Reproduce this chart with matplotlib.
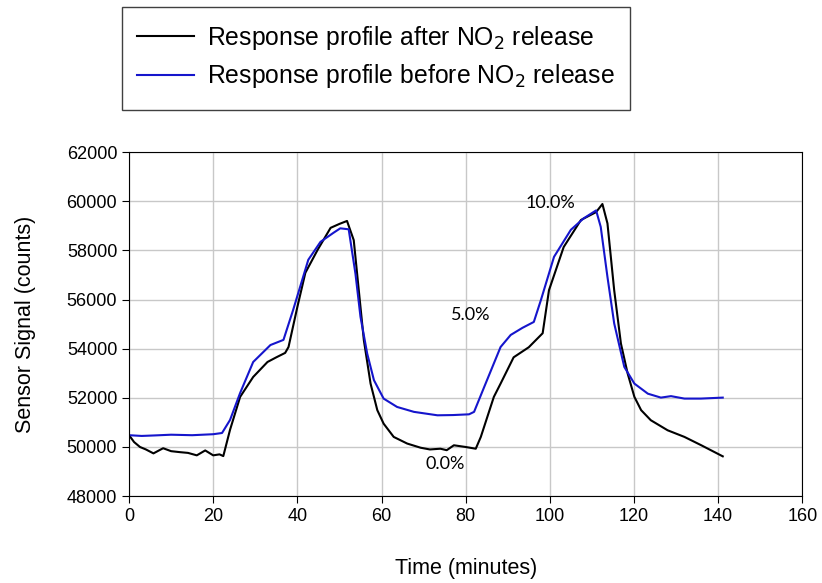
import numpy as np
import matplotlib
matplotlib.use('Agg')
import matplotlib.pyplot as plt
from matplotlib.patches import Rectangle

plt.rcParams['font.family'] = ['Liberation Sans', 'DejaVu Sans']

# Response profile after NO2 release (black)
t_after = [0, 1.2, 2.6, 4.0, 5.8, 7.0, 8.1, 10.0, 12.1, 14.0, 16.1, 18.1, 20.0, 21.5, 22.4,
           24.0, 26.4, 29.5, 32.9, 35.0, 37.1, 37.9, 40.0, 41.9, 44.8, 47.9, 50.0, 51.8,
           53.4, 54.6, 55.8, 57.4, 59.0, 60.5, 62.9, 66.1, 69.3, 71.5, 74.0, 75.5, 77.2, 80.0, 82.4,
           83.6, 86.7, 88.3, 91.4, 95.0, 98.3, 99.8, 103.3, 107.4, 111.0, 112.5,
           113.7, 115.3, 116.9, 118.5, 120.1, 121.7, 124.0, 128.0, 132.0, 136.0, 141.1]
v_after = [50480, 50200, 50000, 49900, 49740, 49850, 49950, 49830, 49790, 49760, 49660, 49860, 49660, 49700, 49630,
           50700, 52040, 52850, 53460, 53650, 53830, 54070, 55700, 57090, 58020, 58920, 59080, 59200,
           58420, 56380, 54350, 52580, 51500, 50950, 50410, 50140, 49970, 49900, 49930, 49870, 50070, 50000, 49930,
           50410, 52040, 52580, 53650, 54060, 54630, 56380, 58140, 59240, 59560, 59890,
           59100, 56380, 54210, 52990, 52040, 51500, 51090, 50680, 50410, 50070, 49620]

# Response profile before NO2 release (blue)
t_before = [0, 3, 6, 10, 15, 20, 22.1, 24.0, 26.4, 29.5, 33.6, 36.7, 39.0, 42.6, 45.5,
            48.6, 50.2, 52.2, 53.8, 55.0, 56.6, 58.2, 60.5, 63.7, 67.7, 73.3, 77.0, 80.8, 82.0,
            84.4, 88.3, 90.7, 93.5, 96.2, 97.9, 101.0, 105.0, 108.0, 111.0, 112.1, 113.7,
            115.3, 117.7, 120.1, 123.3, 126.4, 128.8, 132.0, 135.9, 141.1]
v_before = [50480, 50450, 50470, 50500, 50480, 50520, 50570, 51100, 52200, 53460, 54150, 54360, 55580, 57620, 58350,
            58720, 58900, 58860, 57060, 55300, 53800, 52720, 51970, 51630, 51430, 51290, 51300, 51330, 51430,
            52440, 54070, 54560, 54850, 55090, 55990, 57740, 58840, 59300, 59630, 58960, 56920,
            55030, 53260, 52580, 52170, 52010, 52070, 51970, 51970, 52010]

labels = ['0.0%', '5.0%', '10.0%']
label_t = [75.2, 81.2, 100.2]
label_v = [49300, 55360, 59930]

W, H = 822, 583
fig = plt.figure(figsize=(W / 100, H / 100), dpi=100)
ax = fig.add_axes([0.157, 0.149, 0.819, 0.590])

l1, = ax.plot(t_after, v_after, color='black', linewidth=1.5,
              label='Response profile after NO$_2$ release')
l2, = ax.plot(t_before, v_before, color='#1515cc', linewidth=1.5,
              label='Response profile before NO$_2$ release')

for lab, tx, vy in zip(labels, label_t, label_v):
    ax.text(tx, vy, lab, ha='center', va='center', fontsize=13, family=['Lato', 'DejaVu Sans'])

ax.set_xlim(0, 160)
ax.set_ylim(48000, 62000)
ax.set_xticks(np.arange(0, 161, 20))
ax.set_yticks(np.arange(48000, 62001, 2000))
ax.grid(True, color='#c8c8c8', linewidth=1.0)
ax.set_axisbelow(True)
ax.tick_params(labelsize=13, direction='out', length=5)
for sp in ax.spines.values():
    sp.set_color('black')
ax.set_xlabel('Time (minutes)', fontsize=15.5, labelpad=24)
ax.set_ylabel('Sensor Signal (counts)', fontsize=15.5, labelpad=22)

# legend box drawn separately so it can be wider than its contents
fig.patches.append(Rectangle((122 / W, 1 - 110 / H), (630 - 122) / W, 103 / H,
                             transform=fig.transFigure, fill=False,
                             edgecolor='#404040', linewidth=1.0))
fig.legend(handles=[l1, l2], loc='upper left', bbox_to_anchor=(137 / W, 1 - 24 / H),
           fontsize=17.8, frameon=False, handlelength=2.3, handletextpad=0.55,
           borderpad=0, labelspacing=0.42, borderaxespad=0)

fig.savefig('out.png', dpi=100)
